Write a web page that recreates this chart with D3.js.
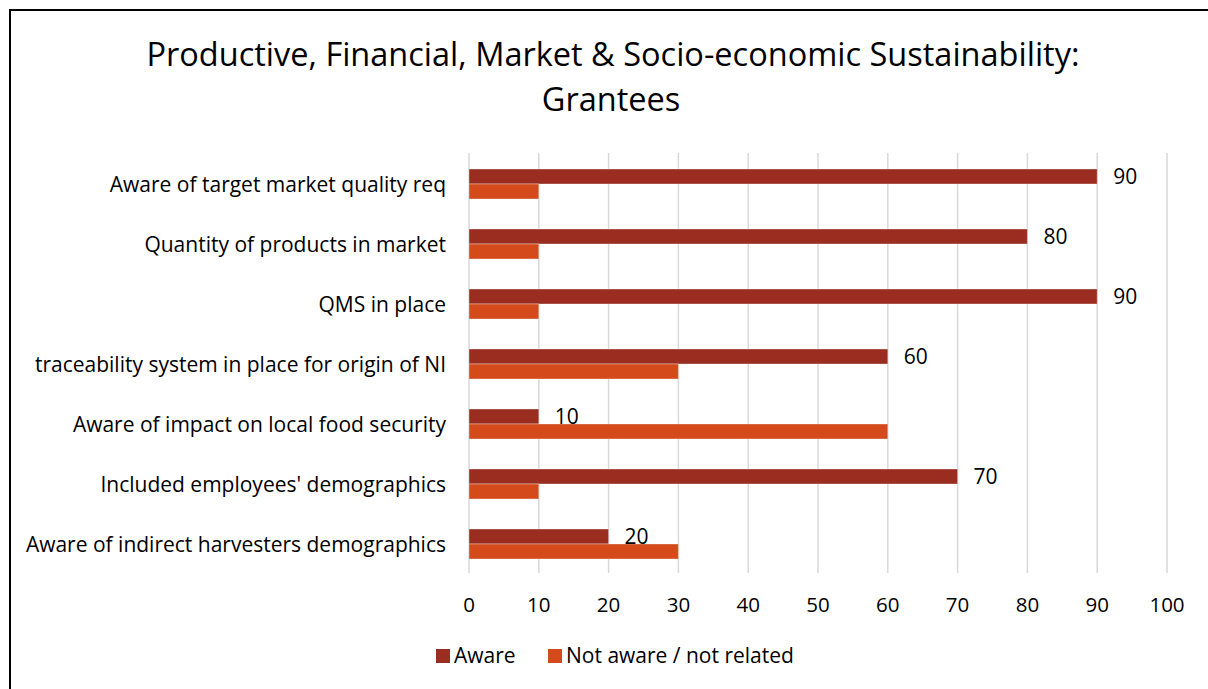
<html>
<head>
<script src="https://d3js.org/d3.v7.min.js"></script>
<style>
  body { margin: 0; background: #fff; }
  svg text { font-family: "Open Sans", "Noto Sans", sans-serif; fill: #000; }
</style>
</head>
<body>
<div id="chart"></div>
<script>
// chart values
var categories = [
  "Aware of target market quality req",
  "Quantity of products in market",
  "QMS in place",
  "traceability system in place for origin of NI",
  "Aware of impact on local food security",
  "Included employees' demographics",
  "Aware of indirect harvesters demographics"
]
var aware = [90, 80, 90, 60, 10, 70, 20]
var notAware = [10, 10, 10, 30, 60, 10, 30]
var seriesNames = ["Aware", "Not aware / not related"]
var ticks = [0, 10, 20, 30, 40, 50, 60, 70, 80, 90, 100]

var colors = ["#9b2d20", "#d44a1a"]
var width = 1208, height = 689

var svg = d3.select("#chart").append("svg")
  .attr("width", width)
  .attr("height", height)

// outer frame (runs off the right and bottom edges like the source)
svg.append("rect")
  .attr("x", 10).attr("y", 10)
  .attr("width", 1400).attr("height", 900)
  .attr("fill", "none")
  .attr("stroke", "#000")
  .attr("stroke-width", 2)

svg.append("text")
  .attr("x", 613).attr("y", 66)
  .attr("text-anchor", "middle")
  .style("font-size", "32.5px")
  .text("Productive, Financial, Market & Socio-economic Sustainability:")
svg.append("text")
  .attr("x", 611).attr("y", 111)
  .attr("text-anchor", "middle")
  .style("font-size", "32.5px")
  .text("Grantees")

var x = d3.scaleLinear().domain([0, 100]).range([469, 1167])
var y = d3.scaleBand().domain(categories).range([154, 574])
var inner = d3.scaleBand().domain(seriesNames).range([0, y.bandwidth()]).paddingOuter(1)

// gridlines
svg.append("g").selectAll("line")
  .data(ticks)
  .join("line")
    .attr("x1", d => x(d)).attr("x2", d => x(d))
    .attr("y1", 153).attr("y2", 573)
    .attr("stroke", "#d9d9d9")
    .attr("stroke-width", 1.5)

// x tick labels
svg.append("g").selectAll("text")
  .data(ticks)
  .join("text")
    .attr("x", d => x(d))
    .attr("y", 612)
    .attr("text-anchor", "middle")
    .style("font-size", "20.5px")
    .text(d => d)

// category labels
svg.append("g").selectAll("text")
  .data(categories)
  .join("text")
    .attr("x", 446)
    .attr("y", d => y(d) + y.bandwidth() / 2 + 1)
    .attr("dy", "0.35em")
    .attr("text-anchor", "end")
    .style("font-size", "21px")
    .text(d => d)

var rows = categories.map((c, i) => ({cat: c, vals: [aware[i], notAware[i]]}))

var groups = svg.append("g").selectAll("g")
  .data(rows)
  .join("g")
    .attr("transform", d => `translate(0,${y(d.cat)})`)

groups.selectAll("rect")
  .data(d => d.vals.map((v, k) => ({name: seriesNames[k], v: v, k: k})))
  .join("rect")
    .attr("x", x(0))
    .attr("y", d => inner(d.name))
    .attr("width", d => x(d.v) - x(0))
    .attr("height", inner.bandwidth())
    .attr("fill", d => colors[d.k])
    .attr("stroke", "#fff")
    .attr("stroke-opacity", 0.35)
    .attr("stroke-width", 1)

// data labels on the Aware series only
groups.append("text")
  .attr("x", d => x(d.vals[0]) + 16)
  .attr("y", inner(seriesNames[0]) + inner.bandwidth() / 2)
  .attr("dy", "0.35em")
  .style("font-size", "21px")
  .text(d => d.vals[0])

// legend
var legendX = [436, 548]
var legend = svg.append("g").selectAll("g")
  .data(seriesNames)
  .join("g")
    .attr("transform", (d, i) => `translate(${legendX[i]},649)`)
legend.append("rect")
  .attr("width", 14).attr("height", 14)
  .attr("fill", (d, i) => colors[i])
legend.append("text")
  .attr("x", 18).attr("y", 7)
  .attr("dy", "0.35em")
  .style("font-size", "21px")
  .text(d => d)
</script>
</body>
</html>
